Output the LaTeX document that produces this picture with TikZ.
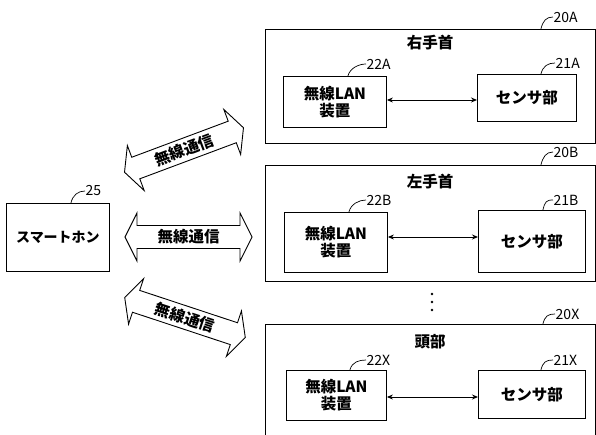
\documentclass[tikz,border=0pt]{standalone}
\usepackage{fontspec}
\setmainfont{Noto Sans CJK JP}
\usetikzlibrary{arrows.meta}
\begin{document}
\begin{tikzpicture}[x=1pt,y=-1pt,
  box/.style={draw,line width=0.9pt,anchor=north west,inner sep=0pt},
  txt/.style={font=\fontsize{15.5}{17}\selectfont\bfseries,align=center,inner sep=0pt},
  lbl/.style={font=\fontsize{14}{16}\selectfont,anchor=west,inner sep=0.5pt},
  leader/.style={line width=0.7pt},
  link/.style={line width=0.9pt,{Stealth[length=6pt,width=5pt]}-{Stealth[length=6pt,width=5pt]}},
  warrow/.style={draw,line width=0.9pt,fill=white,line join=miter}]
\clip (0,0) rectangle (596,435);
\fill[white] (0,0) rectangle (596,435);

% smartphone
\node[box,minimum width=103,minimum height=68] (sp) at (6,203) {};
\node[txt,font=\fontsize{14}{16}\selectfont\bfseries] (spt) at (sp.center) {スマートホン};
\node[lbl] (l25) at (85,191) {25};
\draw[leader] ([xshift=-39pt]sp.north east) .. controls +(2,-8) and +(-7,0) .. (l25.west);

% wireless arrows
\newcommand{\wshape}{(-63.5,0) -- (-51.5,-24) -- (-51.5,-11.5) -- (51.5,-11.5) -- (51.5,-24) -- (63.5,0) -- (51.5,24) -- (51.5,11.5) -- (-51.5,11.5) -- (-51.5,24) -- cycle}
\begin{scope}[shift={(184,150)},rotate=20.5]
  \draw[warrow] \wshape;
  \node[txt,transform shape] (w1) at (0,0) {無線通信};
\end{scope}
\begin{scope}[shift={(188.5,237)}]
  \draw[warrow] \wshape;
  \node[txt] (w2) at (0,0) {無線通信};
\end{scope}
\begin{scope}[shift={(185,317.5)},rotate=-18.3]
  \draw[warrow] \wshape;
  \node[txt,transform shape] (w3) at (0,0) {無線通信};
\end{scope}

% unit A
\node[box,minimum width=330,minimum height=114] (uA) at (265,29) {};
\node[lbl] (l20A) at (553,17) {20A};
\draw[leader] ([xshift=-55pt]uA.north east) .. controls +(2,-8) and +(-7,0) .. (l20A.west);
\node[txt] (tA) at (430,43) {右手首};
\node[box,minimum width=103,minimum height=51] (wA) at (283,76) {};
\node[txt] (wAt) at (wA.center) {無線LAN\\装置};
\node[box,minimum width=99,minimum height=47] (sA) at (477,74) {};
\node[txt] (sAt) at (sA.center) {センサ部};
\node[lbl] (l22A) at (366,64) {22A};
\node[lbl] (l21A) at (555,63) {21A};
\draw[leader] ([xshift=-39pt]wA.north east) .. controls +(2,-8) and +(-7,0) .. (l22A.west);
\draw[leader] ([xshift=-36pt]sA.north east) .. controls +(2,-8) and +(-7,0) .. (l21A.west);
\draw[link] (wA.east |- 0,100) -- (sA.west |- 0,100);

% unit B
\node[box,minimum width=330,minimum height=116] (uB) at (265,165) {};
\node[lbl] (l20B) at (553,152) {20B};
\draw[leader] ([xshift=-55pt]uB.north east) .. controls +(2,-8) and +(-7,0) .. (l20B.west);
\node[txt] (tB) at (430,182) {左手首};
\node[box,minimum width=103,minimum height=60] (wB) at (284,212) {};
\node[txt] (wBt) at (wB.center) {無線LAN\\装置};
\node[box,minimum width=107,minimum height=62] (sB) at (478,210) {};
\node[txt] (sBt) at (sB.center) {センサ部};
\node[lbl] (l22B) at (366,200) {22B};
\node[lbl] (l21B) at (553,200) {21B};
\draw[leader] ([xshift=-39pt]wB.north east) .. controls +(2,-8) and +(-7,0) .. (l22B.west);
\draw[leader] ([xshift=-43pt]sB.north east) .. controls +(2,-8) and +(-7,0) .. (l21B.west);
\draw[link] (wB.east |- 0,237) -- (sB.west |- 0,237);

% dots
\node[inner sep=0pt] (dots) at (432,302) {};
\foreach \yy in {-8,0,8} \fill ([yshift=\yy pt]dots) circle (1.4);

% unit X
\node[box,minimum width=330,minimum height=130] (uX) at (265,324) {};
\node[lbl] (l20X) at (555,314) {20X};
\draw[leader] ([xshift=-53pt]uX.north east) .. controls +(2,-8) and +(-7,0) .. (l20X.west);
\node[txt] (tX) at (430,342) {頭部};
\node[box,minimum width=100,minimum height=50] (wX) at (286,370) {};
\node[txt] (wXt) at (wX.center) {無線LAN\\装置};
\node[box,minimum width=107,minimum height=48] (sX) at (478,370) {};
\node[txt] (sXt) at (sX.center) {センサ部};
\node[lbl] (l22X) at (366,360) {22X};
\node[lbl] (l21X) at (553,360) {21X};
\draw[leader] ([xshift=-37pt]wX.north east) .. controls +(2,-8) and +(-7,0) .. (l22X.west);
\draw[leader] ([xshift=-45pt]sX.north east) .. controls +(2,-8) and +(-7,0) .. (l21X.west);
\draw[link] (wX.east |- 0,397) -- (sX.west |- 0,397);
\end{tikzpicture}
\end{document}
